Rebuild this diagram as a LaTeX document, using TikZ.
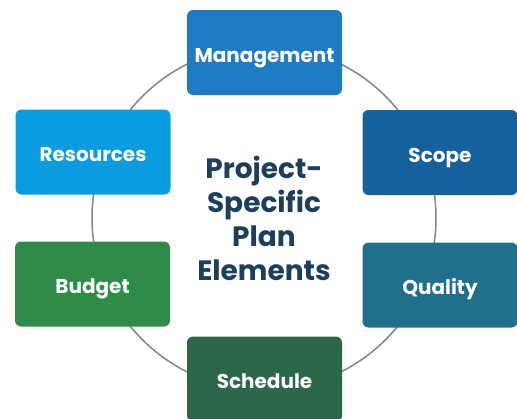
\documentclass[tikz,border=0pt]{standalone}
\usepackage{fontspec}
\setmainfont{Poppins}
\usepackage{tikz}
\usetikzlibrary{calc,backgrounds}
\definecolor{mgmtblue}{HTML}{1F7BC4}
\definecolor{resblue}{HTML}{0B9CE0}
\definecolor{scopeblue}{HTML}{16609C}
\definecolor{qualteal}{HTML}{1F6F8D}
\definecolor{budgreen}{HTML}{2F8C48}
\definecolor{schedgreen}{HTML}{2B6749}
\definecolor{titlenavy}{HTML}{1C3F5A}
\definecolor{ringgrey}{HTML}{858585}
\newcommand{\boxw}{155pt}
\newcommand{\boxh}{85pt}
\newcommand{\ringr}{172pt}

\tikzset{
  element/.style={rectangle, rounded corners=6pt, minimum width=\boxw, minimum height=\boxh,
    text=white, font=\fontsize{20}{24}\selectfont\bfseries, inner sep=0pt,
    text height=19pt, text depth=0pt},
}

\begin{document}
\begin{tikzpicture}[x=1pt, y=-1pt]
\useasboundingbox (0,0) rectangle (517,418);
\node[element, fill=mgmtblue] (mgmt) at (264.5, 52.5) {Management};
\node[element, fill=resblue] (res) at (93, 152) {Resources};
\node[element, fill=scopeblue] (scope) at (440, 152.5) {Scope};
\node[element, fill=qualteal] (quality) at (440, 285) {Quality};
\node[element, fill=budgreen] (budget) at (92.5, 284) {Budget};
\node[element, fill=schedgreen] (sched) at (264.5, 379) {Schedule};
\node[text=titlenavy, align=center, font=\fontsize{28}{34}\selectfont\bfseries] (title) at (264, 218) {Project-\\Specific\\Plan\\Elements};
%ring
\begin{scope}[on background layer]
\draw[ringgrey, line width=1.5pt] (title.center) circle (\ringr);
\end{scope}
\end{tikzpicture}
\end{document}
